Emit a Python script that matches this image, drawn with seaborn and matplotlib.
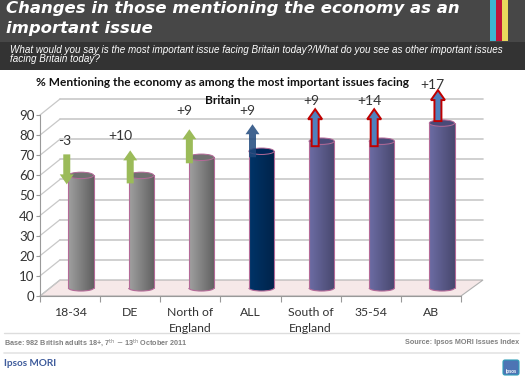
import numpy as np
import pandas as pd
import matplotlib
matplotlib.use('Agg')
import matplotlib.pyplot as plt
from matplotlib.colors import LinearSegmentedColormap
from matplotlib.patches import Arc, Ellipse, FancyArrow, FancyBboxPatch, Polygon, Rectangle
from matplotlib.transforms import ScaledTranslation
import seaborn as sns

# values
categories = ['18-34', 'DE', 'North of\nEngland', 'ALL', 'South of\nEngland', '35-54', 'AB']
values = [56, 56, 65, 68, 73, 73, 82]
changes = [-3, 10, 9, 9, 9, 14, 17]
change_labels = ['-3', '+10', '+9', '+9', '+9', '+14', '+17']
y_ticks = [0, 10, 20, 30, 40, 50, 60, 70, 80, 90]

# look of each group
grey = ('#a0a0a0', '#606060', '#707070')
navy = ('#003468', '#00234a', '#00275a')
purple = ('#6c6ca4', '#48486e', '#4a4a78')
bar_shades = [grey, grey, grey, navy, purple, purple, purple]
arrow_fill = ['#9bbb59', '#9bbb59', '#9bbb59', '#1f497d', '#4f81bd', '#4f81bd', '#4f81bd']
arrow_edge = ['none', 'none', 'none', 'none', '#c00000', '#c00000', '#c00000']
arrow_dx = [-14.3, -11, -12, -9, -6.5, -7.6, -4]  # from bar centre, pixels
arrow_gap = [-20, -25, -28, -27, -32, -32, -33]   # tip above bar top, pixels
arrow_len = [30, 33, 34, 33, 37, 37, 31]
label_dx = [-16, -21, -17, -14, -10.5, -12.6, -10]
label_gap = [34, 39, 46, 40, 40, 40, 38]

sns.set_style('white')
plt.rcParams['font.family'] = ['Lato', 'DejaVu Sans']

W, H = 525, 378
fig = plt.figure(figsize=(W / 100, H / 100), dpi=100)

# pixel axes for everything that sits around the chart
bg = fig.add_axes([0, 0, 1, 1], zorder=0)
bg.set_xlim(0, W)
bg.set_ylim(H, 0)
bg.axis('off')

# chart plane: front face of the 3d box
left, right, y0, y90 = 40, 461, 296, 115
ax = fig.add_axes([left / W, 1 - y0 / H, (right - left) / W, (y0 - y90) / H], zorder=1)
ax.patch.set_alpha(0)

df = pd.DataFrame({'group': categories, 'pct': values})
sns.barplot(data=df, x='group', y='pct', hue='group', dodge=False, legend=False, width=0.42,
            palette=[s[0] for s in bar_shades], ax=ax)
ax.set_xlim(-0.5, 6.5)
ax.set_ylim(0, 90)
ax.set_xlabel('')
ax.set_ylabel('')
ax.set_yticks(y_ticks)
ax.tick_params(axis='y', direction='out', length=3, width=0.8, color='#999999', labelsize=9.5,
               labelcolor='#333333', pad=1, left=True)
ax.set_xticks(np.arange(-0.5, 7), minor=True)
ax.tick_params(axis='x', which='minor', direction='out', length=4, width=0.8, color='#999999', bottom=True)
ax.tick_params(axis='x', which='major', length=0, labelsize=8.8, labelcolor='#333333', pad=8)
for lab in ax.get_xticklabels():
    lab.set_linespacing(1.55)
sns.despine(ax=ax, top=True, right=True)
for side in ['left', 'bottom']:
    ax.spines[side].set_color('#999999')
    ax.spines[side].set_linewidth(0.8)

# back wall, side wall, floor
dx_back, dy_back = 20, 16
bg.add_patch(Polygon([(left, y0), (right, y0), (right + 22, y0 - dy_back), (left + dx_back, y0 - dy_back)],
                     facecolor='#f6e8e8', edgecolor='#b0b0b0', lw=0.8))
px_per = (y0 - y90) / 90
for t in y_ticks:
    y = y0 - t * px_per
    if t > 0:
        bg.plot([left + dx_back, right + 22], [y - dy_back, y - dy_back], color='#c8c8c8', lw=1.2)
    bg.plot([left, left + dx_back], [y, y - dy_back], color='#c8c8c8', lw=0.9)

# bars sit half way into the box
shift = ax.transData + ScaledTranslation(0.11, 0.08, fig.dpi_scale_trans)
centres_px = []
tops_px = []
for patch, shade, val in zip(ax.patches, bar_shades, values):
    x, w = patch.get_x(), patch.get_width()
    patch.set_transform(shift)
    patch.set_edgecolor('none')
    cmap = LinearSegmentedColormap.from_list('cyl', [shade[0], shade[1]])
    grad = np.linspace(0, 1, 64).reshape(1, -1)
    base = Ellipse((x + w / 2, 0), w, 3.0, transform=shift, facecolor='none', edgecolor='none')
    ax.add_patch(base)
    for clip in (patch, base):
        im = ax.imshow(grad, cmap=cmap, aspect='auto', extent=(x, x + w, -2, val),
                       transform=shift, zorder=3)
        im.set_clip_path(clip)
    ax.plot([x, x], [0, val], transform=shift, color='#b46a98', lw=0.8, zorder=4)
    ax.plot([x + w, x + w], [0, val], transform=shift, color='#b46a98', lw=0.8, zorder=4)
    ax.add_patch(Arc((x + w / 2, 0), w, 3.0, theta1=180, theta2=360, transform=shift,
                     edgecolor='#b46a98', lw=0.8, zorder=4))
    ax.add_patch(Ellipse((x + w / 2, val), w, 3.2, transform=shift, facecolor=shade[2],
                         edgecolor='#b46a98', lw=0.7, zorder=5))
    centres_px.append(left + (x + w / 2 + 0.5) * (right - left) / 7 + 11)
    tops_px.append(y0 - val * px_per - 8)
ax.set_xlim(-0.5, 6.5)
ax.set_ylim(0, 90)

# everything above the bars
fg = fig.add_axes([0, 0, 1, 1], zorder=2)
fg.set_xlim(0, W)
fg.set_ylim(H, 0)
fg.axis('off')

for i, ch in enumerate(changes):
    cx = centres_px[i] + arrow_dx[i]
    length = arrow_len[i]
    if ch > 0:
        start, d = tops_px[i] + arrow_gap[i] + length, -length
    else:
        start, d = tops_px[i] + 9 - length, length
    fg.add_patch(FancyArrow(cx, start, 0, d, width=7, head_width=14, head_length=10,
                            length_includes_head=True, facecolor=arrow_fill[i],
                            edgecolor=arrow_edge[i], lw=1.4, alpha=0.85 if i == 3 else 1))
    fg.text(centres_px[i] + label_dx[i], tops_px[i] - label_gap[i], change_labels[i], fontsize=10,
            color='#333333', ha='center', va='center')

# chart title
fg.text(222, 83, '% Mentioning the economy as among the most important issues facing', fontsize=8.6,
        fontweight='bold', color='#111111', ha='center', va='center')
fg.text(223, 100, 'Britain', fontsize=8.6, fontweight='bold', color='#111111', ha='center', va='center')

# header
bg.add_patch(Rectangle((0, 0), W, 42, facecolor='#474747', edgecolor='none'))
bg.add_patch(Rectangle((0, 42), W, 27.5, facecolor='#333333', edgecolor='none'))
for x, c in zip([490, 496, 502], ['#3cb4d0', '#c01438', '#e8d85c']):
    bg.add_patch(Rectangle((x, 0), 6, 41, facecolor=c, edgecolor='none'))
fg.text(6, 9, 'Changes in those mentioning the economy as an', fontsize=11.85, fontweight='bold',
        style='italic', family='DejaVu Sans', color='white', va='center')
fg.text(6, 29, 'important issue', fontsize=11.85, fontweight='bold', style='italic',
        family='DejaVu Sans', color='white', va='center')
fg.text(10, 50, 'What would you say is the most important issue facing Britain today?/What do you see as other important issues',
        fontsize=7.1, style='italic', family='Liberation Sans', color='white', va='center')
fg.text(10, 59, 'facing Britain today?', fontsize=7.1, style='italic', family='Liberation Sans',
        color='white', va='center')

# footer
bg.plot([4, 519], [333, 333], color='#dddddd', lw=1)
bg.plot([4, 519], [353, 353], color='#e4e4e4', lw=1.2)
fg.text(4, 343, r'Base: 982 British adults 18+, 7$^{\mathrm{th}}$ $-$ 13$^{\mathrm{th}}$ October 2011', fontsize=5.2,
        fontweight='bold', family='Liberation Sans', color='#808080', va='center')
fg.text(519, 343, 'Source: Ipsos MORI Issues Index', fontsize=5.2, fontweight='bold', family='Liberation Sans',
        color='#808080', va='center', ha='right')
fg.text(4, 363, 'Ipsos MORI', fontsize=7.2, fontweight='bold', color='#3f5c9c', va='center')
fg.add_patch(FancyBboxPatch((503, 360), 16, 15, boxstyle='round,pad=0,rounding_size=2',
                            facecolor='#4d74b4', edgecolor='#2f9fb8', lw=0.8))
fg.text(511, 372, 'Ipsos', fontsize=3.5, fontweight='bold', color='white', ha='center', va='center')

fig.savefig('out.png', dpi=100, facecolor='white')
